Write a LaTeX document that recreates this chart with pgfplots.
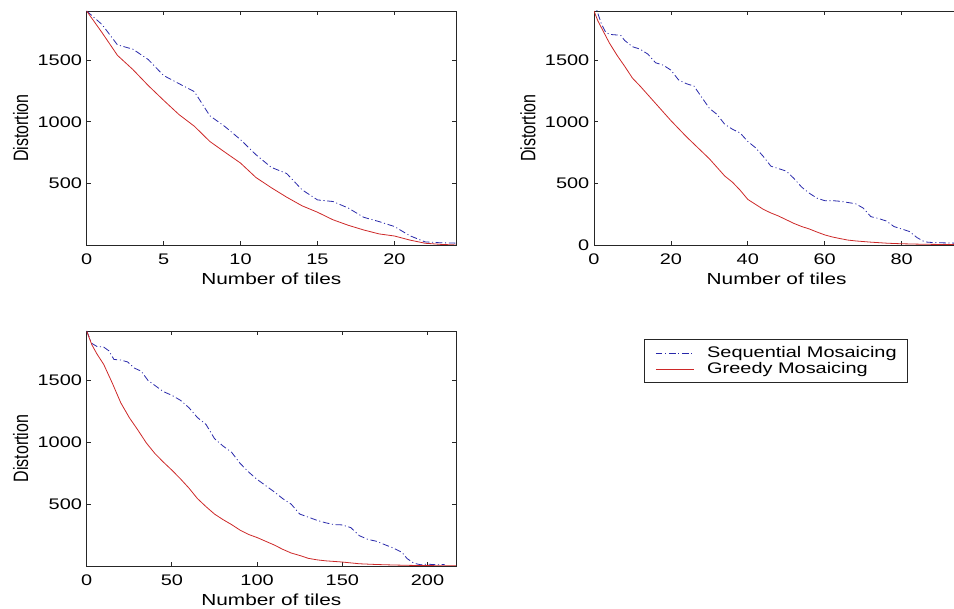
\documentclass[border=0pt]{standalone}
\usepackage{fontspec}
\setmainfont[FakeStretch=1.3]{Liberation Sans}
\newfontfamily\plainfont{Liberation Sans}
\usepackage{graphicx}
\usepackage{pgfplots}
\pgfplotsset{compat=1.18}
\definecolor{seqblue}{RGB}{40,40,170}
\definecolor{grdred}{RGB}{205,40,40}
\pgfplotsset{
  mat/.style={
    scale only axis,
    axis line style={black!85, line width=0.6pt},
    every tick/.style={black!85, line width=0.6pt},
    tick align=inside,
    major tick length=3pt,
    enlargelimits=false,
    xmin=0, ymin=0, ymax=1900,
    /pgf/number format/assume math mode=true,
    /pgf/number format/1000 sep={},
    tick label style={font=\fontsize{11.5}{13}\selectfont, black},
    xticklabel style={yshift=-2.9pt},
    xlabel={Number of tiles},
    xlabel style={font=\fontsize{12}{14}\selectfont, at={(axis description cs:0.5,0)}, anchor=base, yshift=-30pt},
    ylabel={\scalebox{1}[1.3]{\plainfont Distortion}},
    ylabel style={font=\fontsize{12}{14}\selectfont, at={([xshift=-49.5pt]axis description cs:0,0.5)}, anchor=center},
  },
  seq/.style={seqblue, line width=0.6pt, dash pattern=on 5pt off 2pt on 0.8pt off 2pt},
  grd/.style={grdred, line width=0.6pt},
}
\begin{document}
\begin{tikzpicture}
\useasboundingbox (0,0) rectangle (715.5pt,456.75pt);
% ---------- plot 1 ----------
\begin{axis}[mat, at={(65pt,273pt)}, anchor=south west, width=277pt, height=175.5pt,
  xmax=24, xtick={0,5,...,20}, ytick={500,1000,1500}]
\addplot[seq] coordinates {(0,1900)(1,1790)(2,1625)(3,1590)(4,1506)(5,1376)(6,1310)(7,1245)(8,1050)(9,960)(10,855)(11,733)(12,630)(13,580)(14,448)(15,366)(16,353)(17,300)(18,225)(19,190)(20,150)(21,75)(22,25)(23,18)(24,15)};
\addplot[grd] coordinates {(0,1900)(1,1724)(2,1540)(3,1425)(4,1295)(5,1175)(6,1059)(7,964)(8,841)(9,752)(10,665)(11,548)(12,465)(13,388)(14,318)(15,266)(16,205)(17,160)(18,122)(19,90)(20,73)(21,40)(22,14)(23,5)(24,0)};
\end{axis}
% ---------- plot 2 ----------
\begin{axis}[mat, at={(445.5pt,273pt)}, anchor=south west, width=274pt, height=175.5pt,
  xmax=95, xtick={0,20,...,80}, ytick={0,500,1000,1500}]
\addplot[seq] coordinates {(0,1980)(1,1880)(2,1790)(3,1730)(4,1710)(6,1705)(7,1700)(8,1660)(10,1610)(12,1590)(14,1550)(16,1480)(18,1460)(20,1420)(22,1340)(24,1310)(26,1290)(28,1200)(30,1110)(32,1060)(34,980)(36,940)(38,910)(40,840)(42,790)(44,720)(46,640)(48,620)(50,600)(52,540)(54,470)(56,420)(58,380)(60,360)(62,360)(64,355)(66,345)(68,335)(70,300)(72,230)(74,215)(76,195)(78,150)(80,130)(82,110)(84,60)(86,25)(88,20)(90,18)(95,14)};
\addplot[grd] coordinates {(0,1900)(1,1820)(2,1760)(4,1640)(6,1540)(8,1450)(10,1355)(12,1290)(14,1220)(16,1150)(18,1080)(20,1010)(22,945)(24,880)(26,820)(28,760)(30,700)(32,630)(34,560)(36,510)(38,445)(40,370)(42,330)(44,290)(46,260)(48,235)(50,205)(52,175)(54,150)(56,130)(58,105)(60,82)(62,65)(64,52)(66,40)(68,33)(70,28)(72,23)(74,19)(76,15)(78,12)(80,10)(84,7)(88,5)(95,3)};
\end{axis}
% ---------- plot 3 ----------
\begin{axis}[mat, at={(65pt,32.25pt)}, anchor=south west, width=277pt, height=176.25pt,
  xmax=216.7, xtick={0,50,...,200}, ytick={500,1000,1500},
  legend image code/.code={\draw[#1] (0pt,0pt) -- (28.5pt,0pt);},
  legend style={at={(1.509,0.966)}, anchor=north west, draw=black!85, line width=0.6pt, fill=white,
    inner xsep=8.25pt, inner ysep=4.8pt, row sep=1pt, column sep=9.75pt,
    nodes={inner sep=0pt, text height=8.5pt, text depth=2.5pt, font=\fontsize{11.5}{13}\selectfont},
    cells={anchor=west}}]
\addplot[seq] coordinates {(0,1900)(3,1800)(6,1775)(10,1770)(13,1740)(16,1670)(20,1665)(24,1650)(28,1600)(32,1575)(36,1500)(40,1460)(45,1410)(50,1380)(55,1340)(60,1280)(65,1200)(70,1145)(75,1030)(80,970)(85,920)(90,830)(95,760)(100,700)(105,650)(110,600)(115,545)(120,500)(125,420)(130,395)(135,370)(140,350)(145,335)(150,332)(155,310)(160,245)(165,215)(170,200)(175,172)(180,145)(185,110)(188,60)(192,22)(196,10)(200,15)(205,10)(210,12)};
\addplot[grd] coordinates {(0,1900)(3,1790)(6,1715)(10,1630)(15,1480)(20,1320)(25,1200)(30,1100)(35,995)(40,910)(45,840)(50,775)(55,705)(60,630)(65,545)(70,480)(75,420)(80,375)(85,335)(90,290)(95,255)(100,230)(105,200)(110,170)(115,135)(120,105)(125,85)(130,62)(135,50)(140,42)(150,32)(160,18)(170,12)(180,8)(190,5)(200,3)(216.7,2)};
\legend{Sequential Mosaicing\hspace{3.75pt}, Greedy Mosaicing}
\end{axis}
\end{tikzpicture}
\end{document}
